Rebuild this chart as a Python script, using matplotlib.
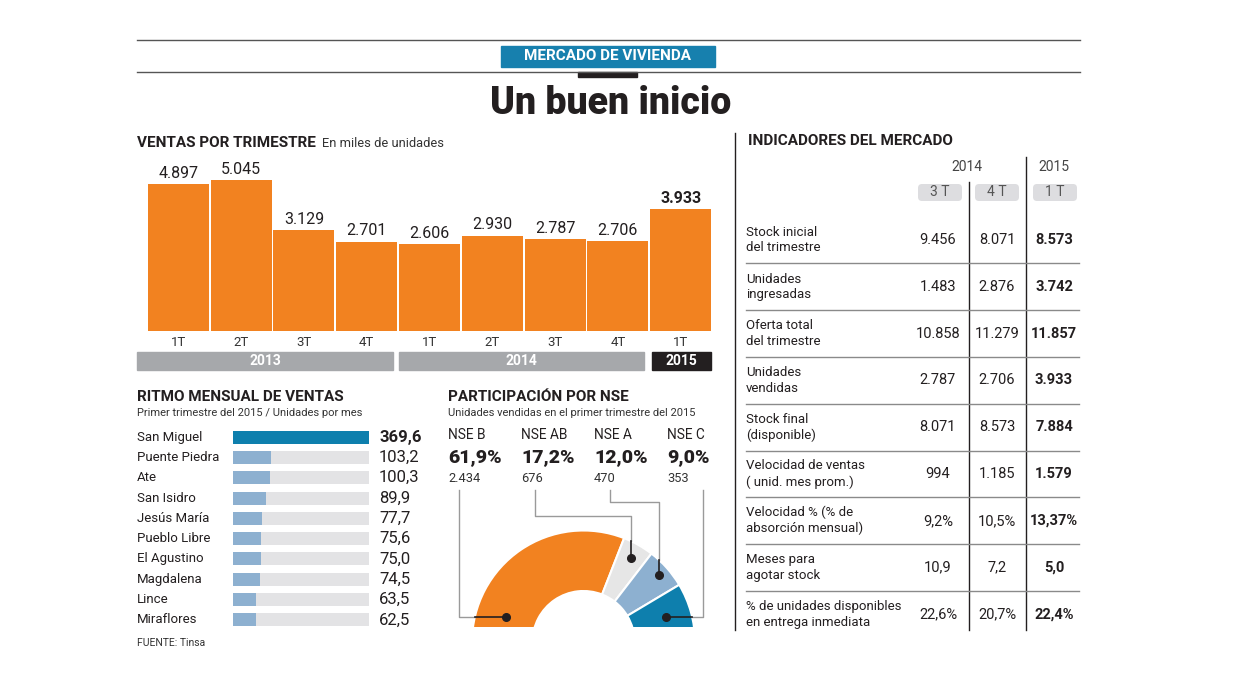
import numpy as np
import matplotlib.pyplot as plt
from matplotlib.patches import Rectangle, FancyBboxPatch

W, H = 1240, 692

# ventas por trimestre (miles de unidades)
trimestres = ['1T', '2T', '3T', '4T', '1T', '2T', '3T', '4T', '1T']
anios = ['2013', '2014', '2015']
trim_por_anio = [4, 4, 1]
ventas = [4.897, 5.045, 3.129, 2.701, 2.606, 2.930, 2.787, 2.706, 3.933]

# ritmo mensual de ventas
distritos = ['San Miguel', 'Puente Piedra', 'Ate', 'San Isidro', 'Jesús María',
             'Pueblo Libre', 'El Agustino', 'Magdalena', 'Lince', 'Miraflores']
ritmo = [369.6, 103.2, 100.3, 89.9, 77.7, 75.6, 75.0, 74.5, 63.5, 62.5]

# participacion por NSE
nse = ['NSE B', 'NSE AB', 'NSE A', 'NSE C']
nse_pct = [61.9, 17.2, 12.0, 9.0]
nse_uds = [2434, 676, 470, 353]
orden_anillo = [0, 3, 2, 1]   # orden de los sectores como aparecen en el grafico

# indicadores del mercado
ind_filas = ['Stock inicial\ndel trimestre', 'Unidades\ningresadas', 'Oferta total\ndel trimestre',
             'Unidades\nvendidas', 'Stock final\n(disponible)', 'Velocidad de ventas\n( unid. mes prom.)',
             'Velocidad % (% de\nabsorción mensual)', 'Meses para\nagotar stock',
             '% de unidades disponibles\nen entrega inmediata']
ind_3t = ['9.456', '1.483', '10.858', '2.787', '8.071', '994', '9,2%', '10,9', '22,6%']
ind_4t = ['8.071', '2.876', '11.279', '2.706', '8.573', '1.185', '10,5%', '7,2', '20,7%']
ind_1t = ['8.573', '3.742', '11.857', '3.933', '7.884', '1.579', '13,37%', '5,0', '22,4%']

naranja = '#f28220'
azul = '#0e7fad'
celeste = '#8db0d0'
gris_claro = '#e3e3e5'
negro = '#231f20'

plt.rcParams['font.family'] = ['Roboto', 'DejaVu Sans']

fig = plt.figure(figsize=(W / 100, H / 100), dpi=100)


def ejes(x0, y0, x1, y1):
    return fig.add_axes([x0 / W, 1 - y1 / H, (x1 - x0) / W, (y1 - y0) / H])


# ---- barras por trimestre
axb = ejes(147, 150, 712, 331)
base = -0.714
n = len(ventas)
xs = np.arange(n)
axb.bar(xs, np.array(ventas) - base, bottom=base, width=0.97, color=naranja)
axb.set_xlim(-0.5, n - 0.5)
axb.set_ylim(base, base + 181 / 26.2)
axb.axis('off')
for i, v in enumerate(ventas):
    txt = f'{v:.3f}'
    axb.text(i, v + 0.12, txt, ha='center', va='bottom', fontsize=11.5, color=negro,
             fontweight='bold' if i == n - 1 else 'normal')

# ---- ritmo mensual
axh = ejes(233, 427, 369, 630)
yh = np.arange(len(ritmo))
axh.barh(yh, [max(ritmo)] * len(ritmo), height=0.64, color=gris_claro)
axh.barh(yh, ritmo, height=0.64, color=[azul] + [celeste] * (len(ritmo) - 1))
axh.set_xlim(0, max(ritmo))
axh.set_ylim(len(ritmo) - 0.5, -0.5)
axh.axis('off')

# ---- anillo NSE
cx, cy = 583.5, 642
R, r_in = 111.5, 51
axd = ejes(440, 500, 730, 627)
valores = [nse_pct[k] for k in orden_anillo] + [100]
colores = [naranja, '#e6e6e6', celeste, azul, 'none']
wedges, _ = axd.pie(valores, colors=colores, startangle=180, counterclock=False,
                    radius=R, center=(cx, H - cy),
                    wedgeprops=dict(width=R - r_in, edgecolor='white', linewidth=1.5))
wedges[-1].set_visible(False)
for w in wedges:
    w.set_clip_on(True)
    w.set_clip_path(axd.patch)
axd.set_aspect('auto')
axd.set_xlim(440, 730)
axd.set_ylim(H - 627, H - 500)
axd.axis('off')

# ---- capa de textos en pixeles
ax = fig.add_axes([0, 0, 1, 1], facecolor='none')
ax.set_xlim(0, W)
ax.set_ylim(H, 0)
ax.axis('off')

ax.plot([137, 1080], [40, 40], color='#555555', lw=1)
ax.plot([137, 1080], [72, 72], color='#555555', lw=1)
ax.add_patch(Rectangle((501, 46), 214, 21, color='#1780ae'))
ax.add_patch(Rectangle((578, 72), 59, 4.5, color=negro))
ax.text(608, 56.5, 'MERCADO DE VIVIENDA', ha='center', va='center', color='white',
        fontsize=11, fontweight='bold')
ax.text(611, 104, 'Un buen inicio', ha='center', va='center', color=negro,
        fontsize=27, fontweight='black')

ax.text(137, 143, 'VENTAS POR TRIMESTRE', fontsize=11, fontweight='bold', va='center', color=negro)
ax.text(322, 143.5, 'En miles de unidades', fontsize=9.3, va='center', color='#333333')

slot = 565 / n
for i, t in enumerate(trimestres):
    ax.text(147 + (i + 0.5) * slot, 342, t, ha='center', va='center', fontsize=9.5, color='#333333')
ini = 0
for k, (a, m) in enumerate(zip(anios, trim_por_anio)):
    x0 = 147 + ini * slot + 1
    x1 = 147 + (ini + m) * slot - 1
    if k == 0:
        x0 = 137
    if k == len(anios) - 1:
        col = negro
        x0 = x1 - 59
    else:
        col = '#a6a8ab'
        x1 = x1 - 4
    ax.add_patch(Rectangle((x0, 352), x1 - x0, 18, color=col))
    ax.text((x0 + x1) / 2, 361, a, ha='center', va='center', color='white',
            fontsize=10, fontweight='bold')
    ini += m

# ritmo mensual textos
ax.text(137, 397, 'RITMO MENSUAL DE VENTAS', fontsize=11, fontweight='bold', va='center', color=negro)
ax.text(137, 413, 'Primer trimestre del 2015 / Unidades por mes', fontsize=8, va='center', color='#333333')
paso = 203 / len(ritmo)
for i, (d, v) in enumerate(zip(distritos, ritmo)):
    yy = 427 + (i + 0.5) * paso
    ax.text(137, yy, d, fontsize=9.5, va='center', color=negro)
    ax.text(379, yy, f'{v:.1f}'.replace('.', ','), fontsize=12, va='center', color=negro,
            fontweight='bold' if i == 0 else 'normal')
ax.text(137, 643, 'FUENTE: Tinsa', fontsize=7.5, va='center', color='#333333')

# NSE textos
ax.text(448, 397, 'PARTICIPACIÓN POR NSE', fontsize=11, fontweight='bold', va='center', color=negro)
ax.text(448, 413, 'Unidades vendidas en el primer trimestre del 2015', fontsize=8, va='center', color='#333333')
col_x = [448, 521, 594, 667]
linea_x = [459, 535, 610, 703]
codo_y = [617, 516, 502, 617]
punto = [(162, 82), (None, 96), (None, 101), (17, 86)]
for i in range(4):
    ax.text(col_x[i], 435, nse[i], fontsize=9.8, va='center', color=negro)
    ax.text(col_x[i], 457, f'{nse_pct[i]:.1f}%'.replace('.', ','), fontsize=14,
            fontweight='black', va='center', color=negro)
    ax.text(col_x[i], 479, f'{nse_uds[i]:,}'.replace(',', '.'), fontsize=9.3, va='center', color='#333333')
    w = wedges[i]
    ang, rr = punto[i]
    if ang is None:
        ang = (w.theta1 + w.theta2) / 2
    px = cx + rr * np.cos(np.radians(ang))
    py = cy - rr * np.sin(np.radians(ang))
    if codo_y[i] == 617:
        py = 617
        xe = cx + np.sign(px - cx) * np.sqrt(R ** 2 - (cy - py) ** 2)
        ax.plot([linea_x[i], linea_x[i], xe], [490, py, py], color='#9a9a9a', lw=1)
        ax.plot([xe, px], [py, py], color=negro, lw=1.2)
    else:
        ye = cy - np.sqrt(R ** 2 - (px - cx) ** 2)
        ax.plot([linea_x[i], linea_x[i], px, px], [490, codo_y[i], codo_y[i], ye], color='#9a9a9a', lw=1)
        ax.plot([px, px], [ye, py], color=negro, lw=1.2)
    ax.plot(px, py, 'o', color=negro, ms=5.5)

# indicadores
ax.plot([735, 735], [133, 630], color=negro, lw=1)
ax.text(748, 141, 'INDICADORES DEL MERCADO', fontsize=11, fontweight='bold', va='center', color=negro)
ax.text(967, 167, '2014', ha='center', va='center', fontsize=10, color='#444444')
ax.text(1054, 167, '2015', ha='center', va='center', fontsize=10, color='#444444')
ax.plot([969, 969], [182, 630], color=negro, lw=1)
ax.plot([1025.5, 1025.5], [157, 630], color=negro, lw=1)
for xc, t in zip([940, 997, 1055], ['3 T', '4 T', '1 T']):
    ax.add_patch(FancyBboxPatch((xc - 22, 184), 44, 17, boxstyle='round,pad=0,rounding_size=4',
                                color='#dddde0', lw=0))
    ax.text(xc, 192.5, t, ha='center', va='center', fontsize=10, color='#555555')
alto = 46.8
for i, fila in enumerate(ind_filas):
    yc = 240 + i * alto
    ax.text(746, yc, fila, fontsize=9.5, va='center', color=negro, linespacing=1.25)
    ax.text(938, yc, ind_3t[i], ha='center', va='center', fontsize=10.5, color=negro)
    ax.text(997, yc, ind_4t[i], ha='center', va='center', fontsize=10.5, color=negro)
    ax.text(1054, yc, ind_1t[i], ha='center', va='center', fontsize=10.5, color=negro,
            fontweight='bold')
    if i < len(ind_filas) - 1:
        ax.plot([746, 1079], [yc + 23.4, yc + 23.4], color='#8a8a8a', lw=1)

fig.savefig('out.png', dpi=100)
